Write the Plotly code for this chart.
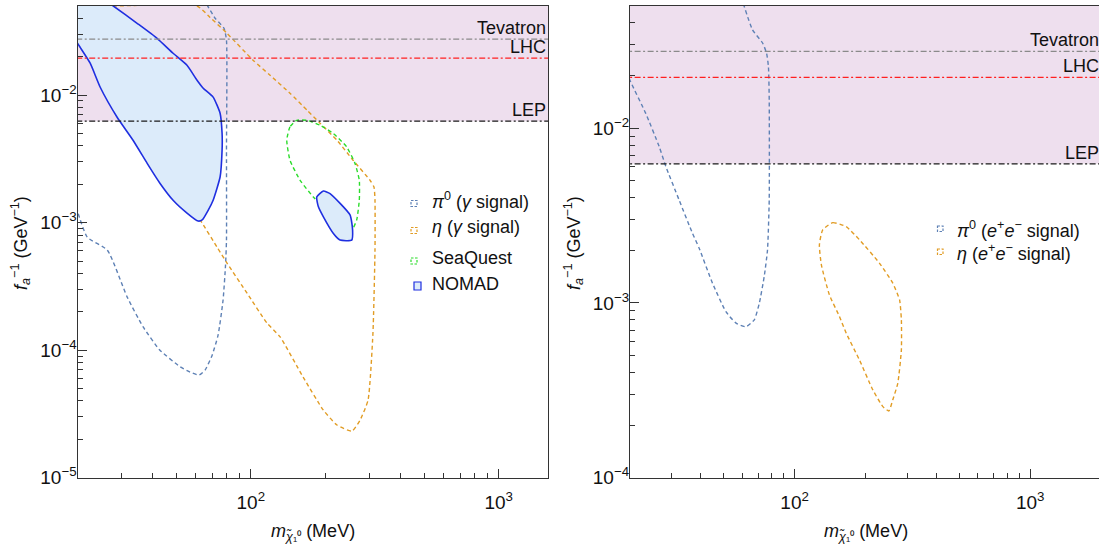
import math
import plotly.graph_objects as go

# ---------------- data ----------------
LEFT_X_RANGE = (20, 1581)
RIGHT_X_RANGE = (20, 1960)
LEFT_Y_RANGE = (1e-5, 0.05)
RIGHT_Y_RANGE = (1e-4, 0.05)

BOUND_NAMES = ["Tevatron", "LHC", "LEP"]
BOUND_VALUES = [0.0275, 0.0195, 0.00625]

pi0_gamma_m = [64.3, 71.8, 78.0, 79.8, 79.8, 79.8, 79.1, 77.3, 73.8, 69.8, 65.4, 61.9,
               56.9, 51.9, 43.0, 36.8, 31.7, 26.4, 21.9, 20.1, 19.6]
pi0_gamma_f = [0.0574, 0.0401, 0.0334, 0.0269, 0.0037, 7.3e-4, 4.65e-4, 2.47e-4, 1.31e-4,
               9.1e-5, 6.98e-5, 6.38e-5, 6.73e-5, 7.41e-5, 1.0e-4, 1.52e-4, 2.62e-4,
               6.08e-4, 7.69e-4, 1.19e-3, 1.5e-3]

eta_gamma_m = [22.1, 22.5, 29.7, 43.0, 62.5, 73.1, 80.2, 96.6, 116.3, 131.3, 162.6, 195.9,
               222.7, 256.0, 276.0, 297.2, 311.0, 317.0, 317.0, 314.1, 302.7, 258.5, 222.7,
               190.2, 168.7, 143.9, 119.6, 102.2, 80.2, 68.5, 60.7, 27.9, 22.1]
eta_gamma_f = [0.05, 0.0269, 0.00998, 0.00309, 1.05e-3, 6.43e-4, 4.82e-4, 2.80e-4, 1.63e-4,
               1.27e-4, 6.15e-5, 3.40e-5, 2.59e-5, 2.32e-5, 2.83e-5, 4.06e-5, 1.36e-4,
               6.08e-4, 1.50e-3, 1.90e-3, 2.15e-3, 3.09e-3, 4.43e-3, 6.03e-3, 7.62e-3,
               0.01035, 0.01432, 0.01878, 0.0305, 0.0407, 0.05, 0.05, 0.05]

seaquest_m = [153.3, 143.9, 139.7, 143.9, 158.1, 178.7, 208.8, 236.2, 255.3, 267.4, 274.0,
              274.0, 263.4, 243.7, 215.4, 190.2, 168.3, 153.3]
seaquest_f = [0.00635, 0.00564, 0.00443, 0.00309, 0.00215, 0.00159, 0.00118, 0.000927,
              0.000873, 0.00105, 0.00150, 0.00215, 0.00291, 0.00393, 0.00500, 0.00581,
              0.00635, 0.00635]

nomad_a_m = [24.5, 27.9, 34.8, 41.9, 48.6, 55.3, 60.7, 64.3, 70.5, 75.2, 76.6, 76.6, 75.2,
             70.5, 67.3, 63.7, 61.3, 55.3, 48.6, 43.0, 38.2, 33.5, 28.9, 24.7, 22.5, 20.5,
             20.0, 18.5, 12.0, 12.0, 24.5]
nomad_a_f = [0.06, 0.05, 0.0366, 0.0279, 0.0213, 0.01714, 0.01309, 0.01133, 0.00964,
             0.00721, 0.00502, 0.00370, 0.00228, 0.00150, 0.00125, 0.00105, 0.00103,
             0.00119, 0.00150, 0.00204, 0.00292, 0.00443, 0.00671, 0.01153, 0.0178,
             0.0237, 0.0255, 0.030, 0.030, 0.10, 0.10]
nomad_b_m = [184.5, 196.3, 208.8, 251.4, 257.5, 255.3, 229.2, 215.4, 196.3, 187.4, 184.5]
nomad_b_f = [0.00159, 0.00177, 0.00169, 0.00115, 0.000873, 0.000730, 0.000730, 0.000822,
             0.00111, 0.00133, 0.00159]

pi0_ee_m = [59.3, 66.2, 73.1, 76.0, 77.4, 78.0, 78.0, 76.7, 74.3, 70.8, 67.4, 62.1, 56.4,
            51.1, 44.8, 39.3, 36.8, 32.3, 28.4, 26.6, 23.3, 20.1, 19.4]
pi0_ee_f = [0.0564, 0.0366, 0.0307, 0.0269, 0.0225, 0.01452, 0.00389, 0.00201, 0.00142,
            0.000996, 0.000800, 0.000731, 0.000766, 0.000891, 0.001297, 0.00206, 0.00251,
            0.00389, 0.00603, 0.00785, 0.01219, 0.01849, 0.0210]

eta_ee_m = [131.6, 145.2, 165.6, 188.4, 229.1, 261.1, 279.0, 283.9, 283.9, 274.1, 261.1,
            251.2, 236.9, 214.8, 188.4, 165.6, 155.0, 140.5, 129.9, 127.4, 131.6]
eta_ee_f = [0.00262, 0.00288, 0.00273, 0.00230, 0.00169, 0.001297, 0.00104, 0.000800,
            0.000538, 0.000347, 0.000279, 0.000241, 0.000255, 0.000318, 0.000472, 0.000671,
            0.000836, 0.001112, 0.00165, 0.00215, 0.00262]

X_TICK_VALUES = [100, 1000]
X_TICK_TEXT = ["10<sup>2</sup>", "10<sup>3</sup>"]
LEFT_Y_TICK_VALUES = [1e-5, 1e-4, 1e-3, 1e-2]
LEFT_Y_TICK_TEXT = ["10<sup>−5</sup>", "10<sup>−4</sup>", "10<sup>−3</sup>", "10<sup>−2</sup>"]
RIGHT_Y_TICK_VALUES = [1e-4, 1e-3, 1e-2]
RIGHT_Y_TICK_TEXT = ["10<sup>−4</sup>", "10<sup>−3</sup>", "10<sup>−2</sup>"]

LEFT_LEGEND = ["<i>π</i><sup>0</sup> (<i>γ</i> signal)", "<i>η</i> (<i>γ</i> signal)",
               "SeaQuest", "NOMAD"]
RIGHT_LEGEND = ["<i>π</i><sup>0</sup> (<i>e</i><sup>+</sup><i>e</i><sup>−</sup> signal)",
                "<i>η</i> (<i>e</i><sup>+</sup><i>e</i><sup>−</sup> signal)"]

# ---------------- styling ----------------
W, H = 1099, 550
FONT = "Liberation Sans, Arial, Helvetica, sans-serif"
BLUE = "#5e81b5"
ORANGE = "#e19c24"
GREEN = "#2bdc2b"
NOMAD_LINE = "#1f2fe0"
NOMAD_FILL = "#dcebfa"
PURPLE = "#eedfee"
BOUND_COLORS = ["#8a8a8a", "#ff2020", "#1a1a1a"]
AXIS_COLOR = "#333333"
DASH = "4px,3px"
DASHDOT = "6px,2.5px,2px,2.5px"


def minor_vals(lo_exp, hi_exp):
    vals = []
    for e in range(lo_exp, hi_exp + 1):
        for k in range(2, 10):
            vals.append(k * 10 ** e)
    return vals


fig = go.Figure()


def add_panel(xa, ya, x_range, curves, extra=None):
    xs = (x_range[0] / 3, x_range[1] * 3)
    fig.add_trace(go.Scatter(x=[xs[0], xs[1], xs[1], xs[0]],
                             y=[BOUND_VALUES[2], BOUND_VALUES[2], 0.2, 0.2],
                             fill="toself", fillcolor=PURPLE, mode="lines",
                             line=dict(width=0), hoverinfo="skip", showlegend=False,
                             xaxis=xa, yaxis=ya))
    for m, f, color in curves:
        fig.add_trace(go.Scatter(x=m, y=f, mode="lines",
                                 line=dict(color=color, width=1.4, dash=DASH,
                                           shape="spline", smoothing=0.5),
                                 showlegend=False, xaxis=xa, yaxis=ya))
    if extra:
        for m, f, color, dash, fill in extra:
            fig.add_trace(go.Scatter(x=m, y=f, mode="lines",
                                     fill="toself" if fill else None,
                                     fillcolor=NOMAD_FILL if fill else None,
                                     line=dict(color=color, width=1.6 if fill else 1.4,
                                               dash=dash, shape="spline", smoothing=0.5),
                                     showlegend=False, xaxis=xa, yaxis=ya))
    for v, c in zip(BOUND_VALUES, BOUND_COLORS):
        fig.add_trace(go.Scatter(x=list(xs), y=[v, v], mode="lines",
                                 line=dict(color=c, width=1.2, dash=DASHDOT),
                                 showlegend=False, xaxis=xa, yaxis=ya))


add_panel("x", "y", LEFT_X_RANGE,
          [(pi0_gamma_m, pi0_gamma_f, BLUE), (eta_gamma_m, eta_gamma_f, ORANGE)],
          extra=[(seaquest_m, seaquest_f, GREEN, DASH, False),
                 (nomad_a_m, nomad_a_f, NOMAD_LINE, "solid", True),
                 (nomad_b_m, nomad_b_f, NOMAD_LINE, "solid", True)])
add_panel("x2", "y2", RIGHT_X_RANGE,
          [(pi0_ee_m, pi0_ee_f, BLUE), (eta_ee_m, eta_ee_f, ORANGE)])

L_DOM = [77.5 / W, 548 / W]
R_DOM = [630 / W, 1.0]
Y_DOM = [(H - 477.7) / H, (H - 6) / H]

common_axis = dict(type="log", showgrid=False, zeroline=False, showline=True,
                   automargin=False, layer="above traces", ticks="inside",
                   linecolor=AXIS_COLOR, linewidth=1.2, ticklen=9,
                   tickwidth=1.2, tickcolor=AXIS_COLOR,
                   tickfont=dict(family=FONT, size=19, color="#111111"))


def minor(vals):
    return dict(ticks="inside", ticklen=5, tickwidth=1.1, tickcolor=AXIS_COLOR,
                tickvals=vals)


fig.update_layout(
    template="none",
    width=W, height=H, margin=dict(l=0, r=0, t=0, b=0, autoexpand=False),
    paper_bgcolor="white", plot_bgcolor="white", showlegend=False,
    font=dict(family=FONT, size=18, color="#111111"),
    xaxis=dict(common_axis, domain=L_DOM, anchor="y", mirror=True, ticklabelstandoff=7,
               range=[math.log10(LEFT_X_RANGE[0]), math.log10(LEFT_X_RANGE[1])],
               tickmode="array", tickvals=X_TICK_VALUES, ticktext=X_TICK_TEXT,
               minor=minor(minor_vals(1, 3))),
    yaxis=dict(common_axis, domain=Y_DOM, anchor="x", mirror=True, ticklabelstandoff=-4,
               range=[math.log10(LEFT_Y_RANGE[0]), math.log10(LEFT_Y_RANGE[1])],
               tickmode="array", tickvals=LEFT_Y_TICK_VALUES, ticktext=LEFT_Y_TICK_TEXT,
               minor=minor(minor_vals(-5, -2))),
    xaxis2=dict(common_axis, domain=R_DOM, anchor="y2", mirror=True, ticklabelstandoff=7,
                range=[math.log10(RIGHT_X_RANGE[0]), math.log10(RIGHT_X_RANGE[1])],
                tickmode="array", tickvals=X_TICK_VALUES, ticktext=X_TICK_TEXT,
                minor=minor(minor_vals(1, 3))),
    yaxis2=dict(common_axis, domain=Y_DOM, anchor="x2", mirror=False, ticklabelstandoff=-4,
                range=[math.log10(RIGHT_Y_RANGE[0]), math.log10(RIGHT_Y_RANGE[1])],
                tickmode="array", tickvals=RIGHT_Y_TICK_VALUES, ticktext=RIGHT_Y_TICK_TEXT,
                minor=minor(minor_vals(-4, -2))),
)

annotations = []
for xref, yref, xshift in [("x domain", "y", 0), ("x2 domain", "y2", 2)]:
    for name, v in zip(BOUND_NAMES, BOUND_VALUES):
        annotations.append(dict(x=1, y=math.log10(v), xref=xref, yref=yref,
                                text=name, showarrow=False, xanchor="right",
                                yanchor="bottom", xshift=xshift, yshift=-1,
                                font=dict(family=FONT, size=18, color="#111111")))

X_TITLE = "<i>m</i><sub><i>χ̃</i>₁⁰</sub> (MeV)"
Y_TITLE = "<i>f<sub>a</sub></i><sup>−1</sup> (GeV<sup>−1</sup>)"
for cx in [312.7, 865.5]:
    annotations.append(dict(x=cx / W, y=1 - 532 / H, xref="paper", yref="paper",
                            text=X_TITLE, showarrow=False, xanchor="center",
                            yanchor="middle", font=dict(family=FONT, size=18)))
for cx in [20, 573]:
    annotations.append(dict(x=cx / W, y=1 - 243 / H, xref="paper", yref="paper",
                            text=Y_TITLE, showarrow=False, textangle=-90,
                            xanchor="center", yanchor="middle",
                            font=dict(family=FONT, size=18)))

shapes = []
SWATCH_DASH = "2.5px,1.5px"
left_rows = [200, 227, 257.5, 284.5]
left_styles = [(BLUE, SWATCH_DASH, None), (ORANGE, SWATCH_DASH, None),
               (GREEN, SWATCH_DASH, None), (NOMAD_LINE, "solid", NOMAD_FILL)]
for label, yc, (col, dash, fill) in zip(LEFT_LEGEND, left_rows, left_styles):
    annotations.append(dict(x=430 / W, y=1 - yc / H, xref="paper", yref="paper",
                            text=label, showarrow=False, xanchor="left", yanchor="middle",
                            font=dict(family=FONT, size=18, color="#111111")))
    if fill is None:
        x0, x1, y0, y1 = 411, 417, yc + 0.5, yc + 6.5
    else:
        x0, x1, y0, y1 = 414, 421, yc - 2.5, yc + 5.5
    shapes.append(dict(type="rect", xref="paper", yref="paper",
                       x0=x0 / W, x1=x1 / W, y0=1 - y0 / H, y1=1 - y1 / H,
                       line=dict(color=col, width=1.2, dash=dash),
                       fillcolor=fill if fill else "rgba(0,0,0,0)"))

right_rows = [229, 252]
for label, yc, col in zip(RIGHT_LEGEND, right_rows, [BLUE, ORANGE]):
    annotations.append(dict(x=955 / W, y=1 - yc / H, xref="paper", yref="paper",
                            text=label, showarrow=False, xanchor="left", yanchor="middle",
                            font=dict(family=FONT, size=18, color="#111111")))
    shapes.append(dict(type="rect", xref="paper", yref="paper",
                       x0=937.5 / W, x1=943 / W, y0=1 - (yc - 3) / H, y1=1 - (yc + 2.5) / H,
                       line=dict(color=col, width=1.2, dash=SWATCH_DASH),
                       fillcolor="rgba(0,0,0,0)"))

fig.update_layout(annotations=annotations, shapes=shapes)

fig.write_html("out.html")
